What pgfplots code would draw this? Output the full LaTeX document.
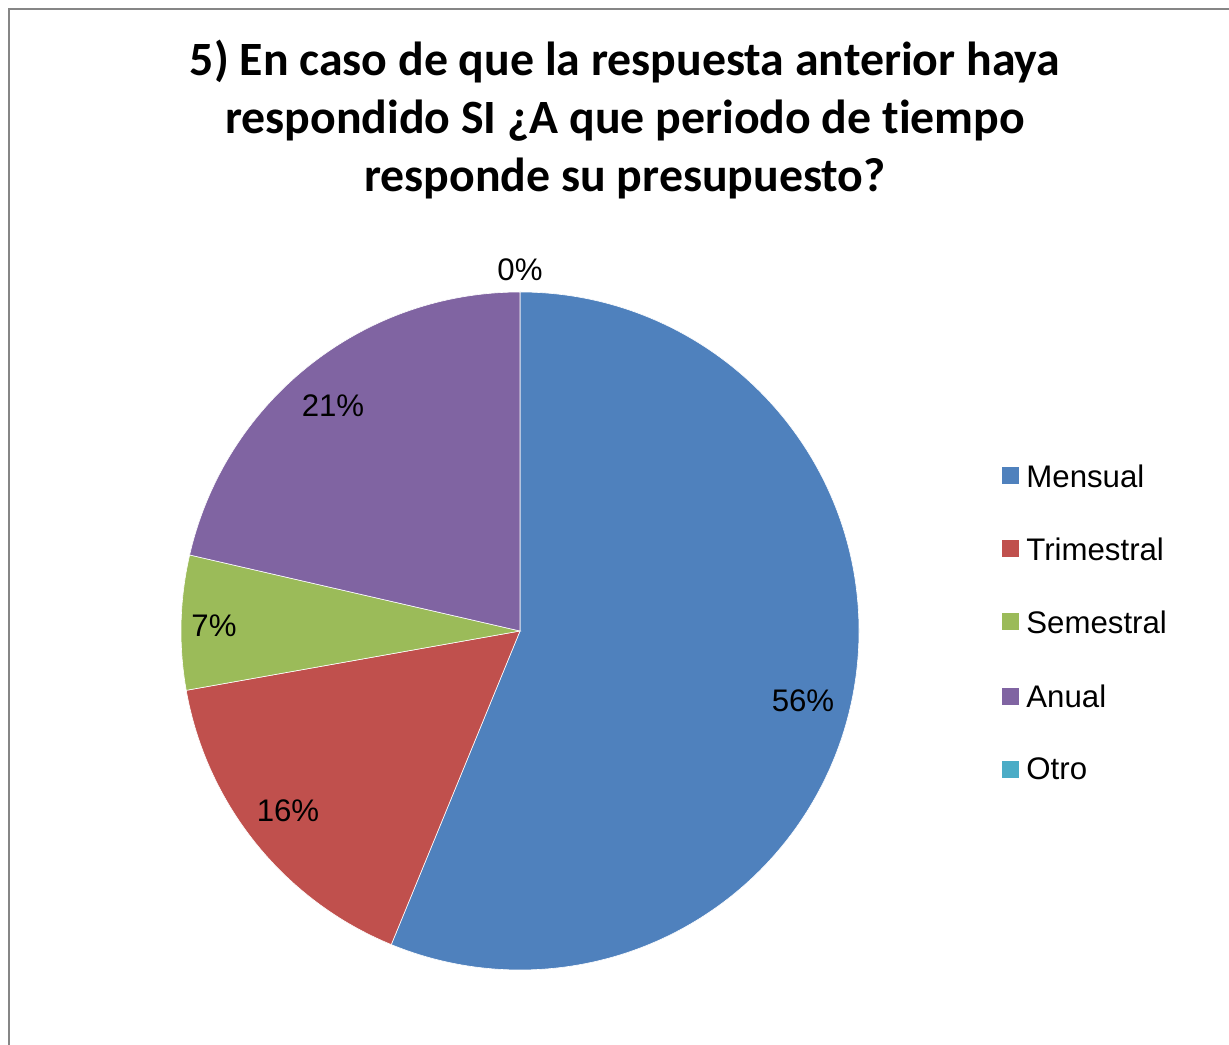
\documentclass[border=0pt]{standalone}
\usepackage{pgfplots}
\pgfplotsset{compat=1.18}
\usepackage{fontspec}
\setmainfont{Liberation Sans}
\newfontfamily\titlefont[Ligatures=NoCommon]{Carlito}
\definecolor{cMen}{HTML}{4F81BD}
\definecolor{cTri}{HTML}{C0504D}
\definecolor{cSem}{HTML}{9BBB59}
\definecolor{cAnu}{HTML}{8064A2}
\definecolor{cOtr}{HTML}{4BACC6}
\definecolor{frame}{HTML}{868686}
% slice: start percent, end percent, colour
\newcommand{\slice}[3]{%
  \fill[#3, draw=white, line width=0.3pt] (axis cs:520,413) --
    ([shift={({90-3.6*#1}:169.5pt)}]axis cs:520,413)
    arc[start angle={90-3.6*#1}, end angle={90-3.6*#2}, radius=169.5pt] -- cycle;}
\newcommand{\legitem}[3]{%
  \fill[#2] (axis cs:1002,{1044-#1-8.5}) rectangle (axis cs:1019,{1044-#1+8.5});
  \node[anchor=west, inner sep=0pt, font=\fontsize{15.6pt}{18pt}\selectfont] at (axis cs:1026,{1044-#1}) {#3};}
\begin{document}
\begin{tikzpicture}
\path[use as bounding box] (0,0) rectangle (614.5pt,522pt);
\begin{axis}[
  at={(0,0)}, anchor=south west,
  scale only axis, width=614.5pt, height=522pt,
  xmin=0, xmax=1229, ymin=0, ymax=1044,
  hide axis, clip=false]
% frame
\draw[frame, line width=1pt] (axis cs:9,-10) -- (axis cs:9,1035) -- (axis cs:1240,1035);
% title
\node[align=center, font=\titlefont\bfseries\fontsize{23.9pt}{29pt}\selectfont, inner sep=0pt]
  at (axis cs:625,924) {5) En caso de que la respuesta anterior haya\\respondido SI ¿A que periodo de tiempo\\responde su presupuesto?};
% pie slices (cumulative percentages, clockwise from top)
\slice{0}{56.2}{cMen}
\slice{56.2}{72.2}{cTri}
\slice{72.2}{78.6}{cSem}
\slice{78.6}{100}{cAnu}
% Otro: 0 %
% data labels
\begin{scope}[every node/.style={font=\fontsize{15.6pt}{18pt}\selectfont, inner sep=0pt}]
\node at (axis cs:803,343) {56\%};
\node at (axis cs:288,233) {16\%};
\node at (axis cs:214,418) {7\%};
\node at (axis cs:333,638) {21\%};
\node at (axis cs:520,774) {0\%};
\end{scope}
% legend
\legitem{476}{cMen}{Mensual}
\legitem{549}{cTri}{Trimestral}
\legitem{622}{cSem}{Semestral}
\legitem{696}{cAnu}{Anual}
\legitem{769}{cOtr}{Otro}
\end{axis}
\end{tikzpicture}
\end{document}
